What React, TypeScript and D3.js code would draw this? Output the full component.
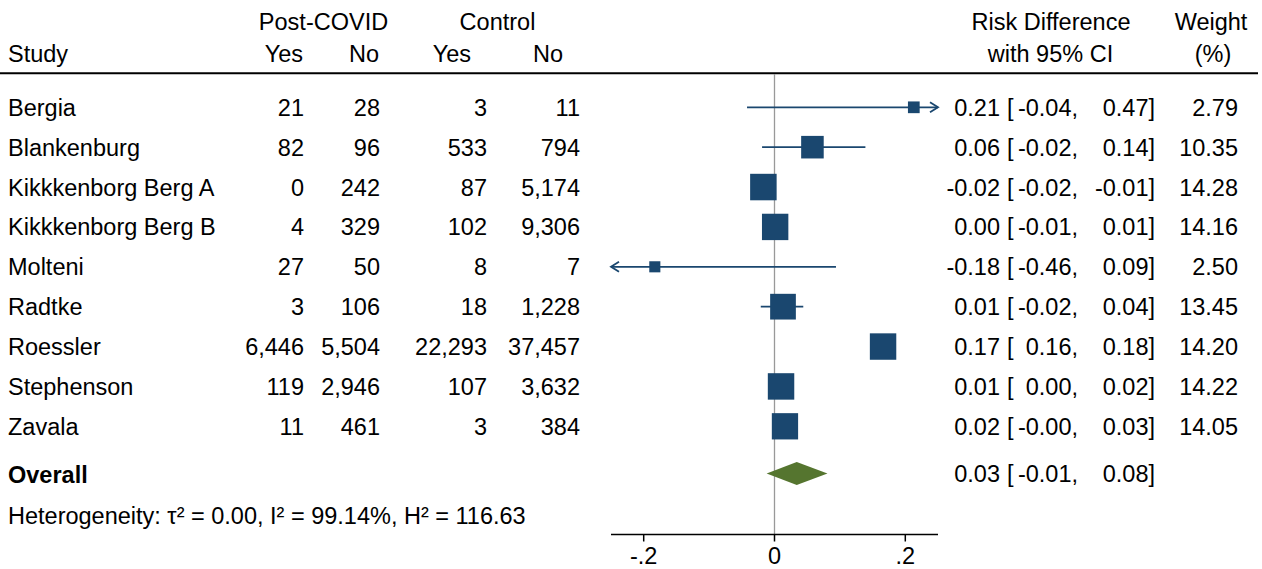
import React from 'react';
import * as d3 from 'd3';

const width = 1262;
const height = 569;

const studies = [
  'Bergia',
  'Blankenburg',
  'Kikkkenborg Berg A',
  'Kikkkenborg Berg B',
  'Molteni',
  'Radtke',
  'Roessler',
  'Stephenson',
  'Zavala'
];
const covidYes = [21, 82, 0, 4, 27, 3, 6446, 119, 11];
const covidNo = [28, 96, 242, 329, 50, 106, 5504, 2946, 461];
const ctrlYes = [3, 533, 87, 102, 8, 18, 22293, 107, 3];
const ctrlNo = [11, 794, 5174, 9306, 7, 1228, 37457, 3632, 384];
const rd = [0.213, 0.058, -0.017, 0.001, -0.183, 0.013, 0.166, 0.01, 0.016];
const lo = [-0.042, -0.019, -0.022, -0.006, -0.46, -0.021, 0.157, 0.004, -0.002];
const hi = [0.47, 0.139, -0.013, 0.008, 0.094, 0.044, 0.176, 0.017, 0.032];
const weights = [2.79, 10.35, 14.28, 14.16, 2.5, 13.45, 14.2, 14.22, 14.05];

const overall = { rd: 0.034, lo: -0.012, hi: 0.081 };
const heterogeneity = 'Heterogeneity: τ² = 0.00, I² = 99.14%, H² = 116.63';
const xTicks = [-0.2, 0, 0.2];

const navy = '#1a476f';
const green = '#55752f';
const font = '"Liberation Sans", Arial, Helvetica, sans-serif';

const x = d3.scaleLinear().domain([-0.25, 0.25]).range([611, 938]);
const y = d3.scaleLinear().domain([0, studies.length - 1]).range([107.3, 426.3]);
const size = d3.scaleSqrt().domain([0, d3.max(weights) as number]).range([0, 26.5]);
const fmtN = d3.format(',');
const fmt2 = (v: number) => v.toFixed(2);
const fmtTick = (v: number) => (v === 0 ? '0' : v.toFixed(1).replace('0.', '.'));

const overallY = 473.5;
const axisY = 534.5;
const base = 8.5;

const cols = [
  { x: 304, vals: covidYes },
  { x: 380, vals: covidNo },
  { x: 487, vals: ctrlYes },
  { x: 580, vals: ctrlNo }
];

// right edges of the CI text pieces
const rdX = 1000;
const brX = 1007;
const loX = 1078;
const hiX = 1155;
const wX = 1238;

function CiText({ cy, v, l, h }: { cy: number; v: number; l: number; h: number }) {
  return (
    <g>
      <text x={rdX} y={cy + base} textAnchor="end">{fmt2(v)}</text>
      <text x={brX} y={cy + base}>[</text>
      <text x={loX} y={cy + base} textAnchor="end">{fmt2(l) + ','}</text>
      <text x={hiX} y={cy + base} textAnchor="end">{fmt2(h) + ']'}</text>
    </g>
  );
}

export default function App() {
  const [x0, x1] = x.domain();
  return (
    <svg
      width={width}
      height={height}
      style={{ position: 'absolute', left: 0, top: 0, background: '#fff' }}
      fontFamily={font}
      fontSize={23.5}
    >
      {/* header */}
      <text x={323.5} y={30} textAnchor="middle">Post-COVID</text>
      <text x={497.5} y={30} textAnchor="middle">Control</text>
      <text x={1051} y={30} textAnchor="middle">Risk Difference</text>
      <text x={1211} y={30} textAnchor="middle">Weight</text>
      <text x={8} y={62}>Study</text>
      <text x={303} y={62} textAnchor="end">Yes</text>
      <text x={379} y={62} textAnchor="end">No</text>
      <text x={471} y={62} textAnchor="end">Yes</text>
      <text x={563} y={62} textAnchor="end">No</text>
      <text x={1050.5} y={62} textAnchor="middle">with 95% CI</text>
      <text x={1213} y={62} textAnchor="middle">(%)</text>
      <line x1={0} x2={1258} y1={73.3} y2={73.3} stroke="#000" strokeWidth={2} />

      {/* zero line */}
      <line x1={x(0)} x2={x(0)} y1={74} y2={axisY} stroke="#999" strokeWidth={1.3} />

      {studies.map((s, i) => {
        const cy = y(i);
        const a = Math.max(lo[i], x0);
        const b = Math.min(hi[i], x1);
        const side = size(weights[i]);
        return (
          <g key={s}>
            <text x={8} y={cy + base}>{s}</text>
            {cols.map((c, j) => (
              <text key={j} x={c.x} y={cy + base} textAnchor="end">{fmtN(c.vals[i])}</text>
            ))}
            <line x1={x(a)} x2={x(b)} y1={cy} y2={cy} stroke={navy} strokeWidth={1.8} />
            {hi[i] > x1 && (
              <polyline
                points={`${x(x1) - 8},${cy - 5} ${x(x1)},${cy} ${x(x1) - 8},${cy + 5}`}
                fill="none"
                stroke={navy}
                strokeWidth={1.8}
              />
            )}
            {lo[i] < x0 && (
              <polyline
                points={`${x(x0) + 8},${cy - 5} ${x(x0)},${cy} ${x(x0) + 8},${cy + 5}`}
                fill="none"
                stroke={navy}
                strokeWidth={1.8}
              />
            )}
            <rect x={x(rd[i]) - side / 2} y={cy - side / 2} width={side} height={side} fill={navy} />
            <CiText cy={cy} v={rd[i]} l={lo[i]} h={hi[i]} />
            <text x={wX} y={cy + base} textAnchor="end">{weights[i].toFixed(2)}</text>
          </g>
        );
      })}

      {/* overall */}
      <text x={8} y={overallY + 9.5} fontWeight="bold">Overall</text>
      <polygon
        points={`${x(overall.lo)},${overallY} ${x(overall.rd)},${overallY - 11.5} ${x(overall.hi)},${overallY} ${x(overall.rd)},${overallY + 11.5}`}
        fill={green}
      />
      <CiText cy={overallY} v={overall.rd} l={overall.lo} h={overall.hi} />

      <text x={8} y={524}>{heterogeneity}</text>

      {/* axis */}
      <line x1={x(x0)} x2={x(x1)} y1={axisY} y2={axisY} stroke="#000" strokeWidth={1.5} />
      {xTicks.map(t => (
        <g key={t}>
          <line x1={x(t)} x2={x(t)} y1={axisY} y2={axisY + 7} stroke="#000" strokeWidth={1.5} />
          <text x={x(t)} y={564} textAnchor="middle">{fmtTick(t)}</text>
        </g>
      ))}
    </svg>
  );
}
